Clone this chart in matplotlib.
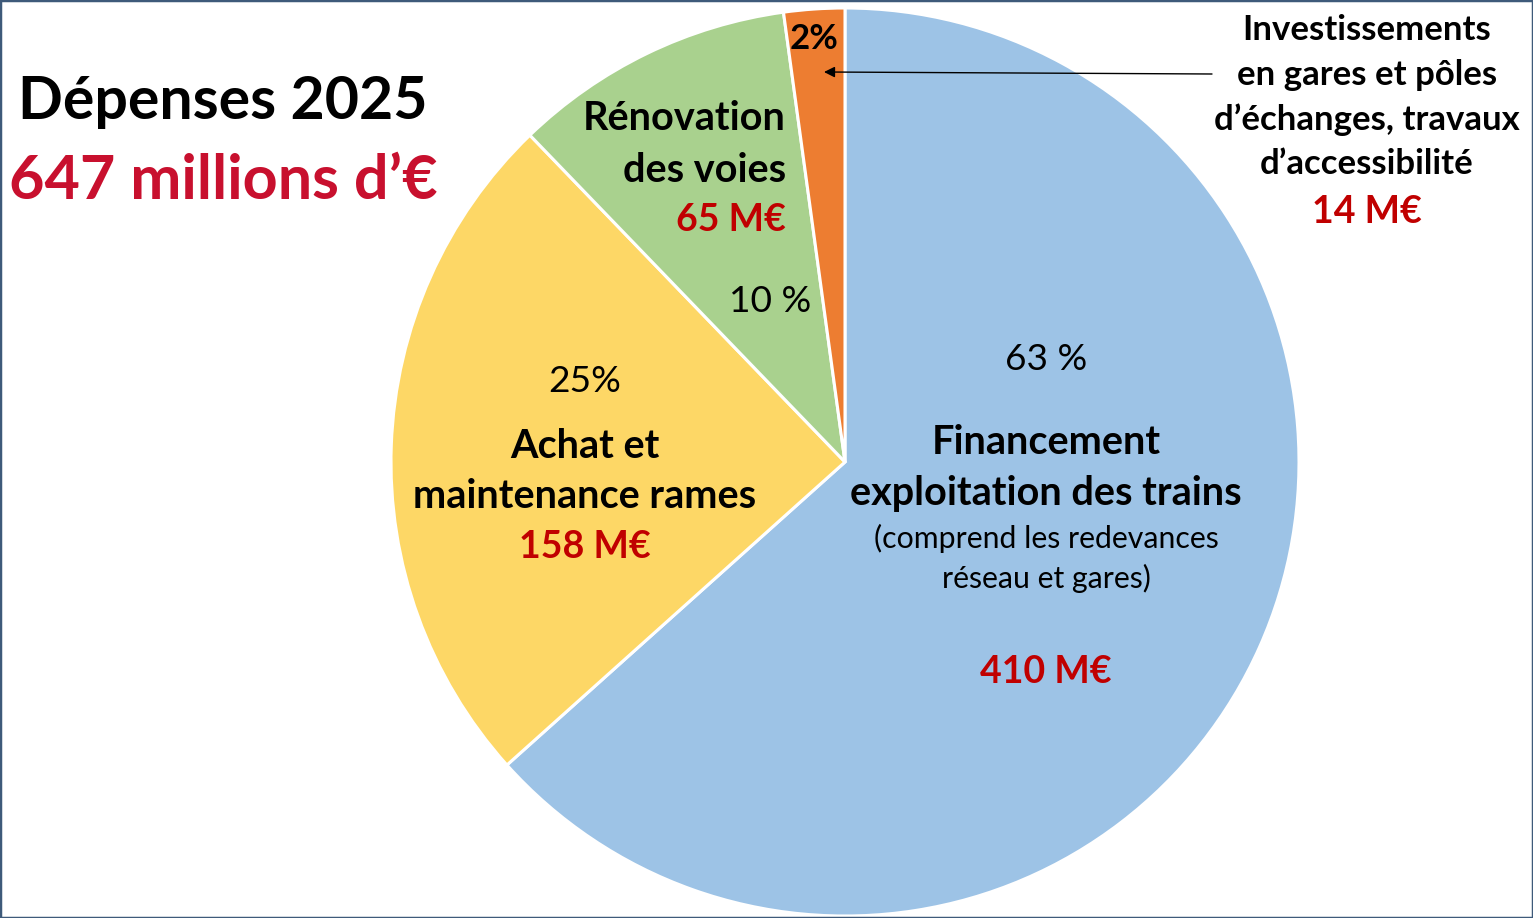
import matplotlib
matplotlib.use("Agg")
from matplotlib import pyplot as plt
from matplotlib.patches import Rectangle

# ======== données ========
values = [410, 158, 65, 14]          # M€, sens horaire depuis midi
colors = ['#9DC3E6', '#FDD766', '#A9D18E', '#ED7D31']
pct_labels = ['63 %', '25%', '10 %', '2%']
total_label = '647 millions d\u2019\u20ac'
# =========================

W, H = 1533, 918
FONT = ['Lato', 'DejaVu Sans']
RED = '#C00000'
BIG = 28.5     # libellés en gras
PCT = 26.7     # pourcentages
EUR = 27       # montants en rouge


def txt(ax, x, y, s, size, weight='normal', color='black', ha='center'):
    # coordonnées en pixels, origine en haut à gauche
    ax.text(x, H - y, s, fontsize=size, fontweight=weight, color=color,
            ha=ha, va='center', family=FONT)


fig = plt.figure(figsize=(W / 100, H / 100), dpi=100)
ax = fig.add_axes([0, 0, 1, 1])

ax.pie(values, colors=colors, startangle=90, counterclock=False,
       center=(845, H - 462), radius=454,
       wedgeprops=dict(edgecolor='white', linewidth=2.2))
ax.set_xlim(0, W)
ax.set_ylim(0, H)
ax.set_aspect('equal')
ax.axis('off')

# titre
txt(ax, 223, 102, 'Dépenses 2025', 42.5, 'bold')
txt(ax, 223, 181, total_label, 44, 'bold', color='#C8102E')

# financement exploitation
txt(ax, 1046, 360, pct_labels[0], PCT)
txt(ax, 1046, 443, 'Financement', BIG, 'bold')
txt(ax, 1046, 494, 'exploitation des trains', BIG, 'bold')
txt(ax, 1046, 538, '(comprend les redevances', 21.8)
txt(ax, 1046, 578, 'réseau et gares)', 21.8)
txt(ax, 1046, 672, f'{values[0]} M\u20ac', EUR, 'bold', color=RED)

# achat et maintenance
txt(ax, 585, 382, pct_labels[1], PCT)
txt(ax, 585, 446, 'Achat et', BIG, 'bold')
txt(ax, 585, 497, 'maintenance rames', BIG, 'bold')
txt(ax, 585, 547, f'{values[1]} M\u20ac', EUR, 'bold', color=RED)

# rénovation des voies
txt(ax, 786, 119, 'Rénovation', BIG, 'bold', ha='right')
txt(ax, 786, 170, 'des voies', BIG, 'bold', ha='right')
txt(ax, 786, 220, f'{values[2]} M\u20ac', EUR, 'bold', color=RED, ha='right')
txt(ax, 770, 302, pct_labels[2], PCT)

# gares et pôles
txt(ax, 814, 39, pct_labels[3], 25, 'bold')
ax.annotate('', xy=(824, H - 72), xytext=(1212, H - 74),
            arrowprops=dict(arrowstyle='-|>', color='black', lw=1,
                            mutation_scale=16, shrinkA=0, shrinkB=0))
txt(ax, 1367, 30, 'Investissements', 25, 'bold')
txt(ax, 1367, 75, 'en gares et pôles', 25, 'bold')
txt(ax, 1367, 120, 'd\u2019échanges, travaux', 25, 'bold')
txt(ax, 1367, 164, 'd\u2019accessibilité', 25, 'bold')
txt(ax, 1367, 212, f'{values[3]} M\u20ac', EUR, 'bold', color=RED)

# cadre
fig.patches.append(Rectangle((0, 0), 1, 1, transform=fig.transFigure,
                             fill=False, edgecolor='#3E5A7A', linewidth=2.5))

fig.savefig('out.png', dpi=100)
